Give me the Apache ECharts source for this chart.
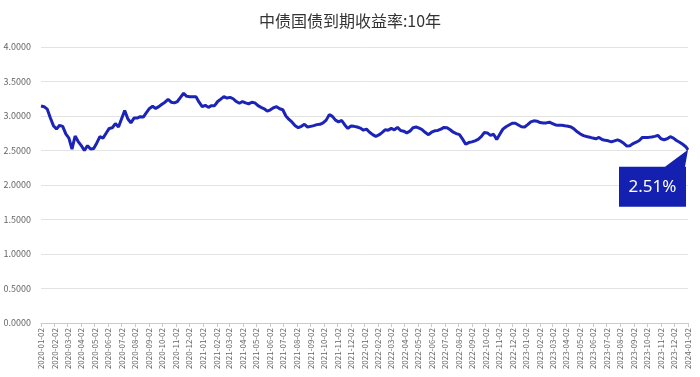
<!DOCTYPE html>
<html><head><meta charset="utf-8">
<script src="https://cdn.jsdelivr.net/npm/echarts@6/dist/echarts.min.js"></script>
<style>html,body{margin:0;padding:0;background:#fff}#c{width:700px;height:377px}</style>
</head><body><div id="c"></div>
<script>
const titleText = '中债国债到期收益率:10年';
const axisStart = '2020-01-02';
const axisEnd = '2024-01-02';
const sampleStart = '2020-01-02';
const sampleStepDays = 7;
const yields2020 = [3.145,3.135,3.10,2.975,2.86,2.81,2.865,2.85,2.74,2.68,2.52,2.71,2.63,2.57,2.50,2.57,2.52,2.53,2.61,2.70,2.68,2.75,2.82,2.83,2.89,2.84,2.96,3.08,2.96,2.90,2.97,2.97,2.99,2.985,3.05,3.11,3.14,3.11,3.135,3.17,3.20,3.24,3.20,3.19,3.21,3.27,3.33,3.285,3.28,3.28,3.28,3.20,3.135];
const yields2021 = [3.155,3.125,3.15,3.15,3.21,3.245,3.28,3.26,3.27,3.25,3.21,3.185,3.21,3.19,3.175,3.20,3.19,3.15,3.125,3.105,3.07,3.09,3.12,3.135,3.105,3.09,3.00,2.95,2.91,2.86,2.83,2.85,2.88,2.84,2.85,2.86,2.875,2.88,2.90,2.94,3.02,2.995,2.94,2.915,2.935,2.87,2.82,2.855,2.85,2.84,2.825,2.795];
const yields2022 = [2.81,2.765,2.73,2.705,2.725,2.76,2.80,2.795,2.82,2.80,2.835,2.79,2.78,2.755,2.78,2.83,2.84,2.825,2.80,2.76,2.73,2.765,2.785,2.79,2.81,2.835,2.83,2.80,2.765,2.745,2.73,2.665,2.59,2.615,2.625,2.64,2.66,2.70,2.76,2.755,2.72,2.735,2.66,2.735,2.81,2.845,2.87,2.895,2.895,2.87,2.845,2.84];
const yields2023 = [2.875,2.915,2.93,2.925,2.905,2.90,2.90,2.91,2.89,2.87,2.865,2.865,2.858,2.852,2.84,2.81,2.77,2.74,2.715,2.703,2.693,2.68,2.67,2.69,2.66,2.647,2.64,2.625,2.64,2.655,2.635,2.605,2.565,2.57,2.60,2.62,2.645,2.69,2.69,2.69,2.697,2.705,2.72,2.67,2.656,2.67,2.70,2.68,2.645,2.62,2.59,2.555];
const lastDate = '2024-01-02';
const lastValue = 2.51;
const calloutText = '2.51%';
const yMin = 0, yMax = 4, yInterval = 0.5;

const DAY = 86400000;
function parse(d){const p=d.split('-').map(Number);return Date.UTC(p[0],p[1]-1,p[2]);}
function fmt(t){const d=new Date(t);return d.getUTCFullYear()+'-'+String(d.getUTCMonth()+1).padStart(2,'0')+'-'+String(d.getUTCDate()).padStart(2,'0');}
const categories = [];
for (let t = parse(axisStart); t <= parse(axisEnd); t += DAY) categories.push(fmt(t));
const weekly = [].concat(yields2020, yields2021, yields2022, yields2023);
const seriesData = weekly.map((v, i) => [categories.indexOf(fmt(parse(sampleStart) + i * sampleStepDays * DAY)), v]);
const lastIdx = categories.indexOf(lastDate);
seriesData.push([lastIdx, lastValue]);

const showLabel = (idx, val) => val.slice(8) === '02';
const lineColor = '#1b24b6';

const chart = echarts.init(document.getElementById('c'), null, {renderer: 'canvas'});
chart.setOption({
  animation: false,
  backgroundColor: '#fff',
  title: {
    text: titleText, left: 'center', top: 8,
    textStyle: {fontSize: 16, fontWeight: 'normal', color: '#333', fontFamily: 'Noto Sans CJK SC'}
  },
  grid: {left: 41, right: 12, top: 47, bottom: 54, containLabel: false},
  xAxis: {
    type: 'category', data: categories, boundaryGap: false,
    axisLine: {lineStyle: {color: '#ccc'}},
    axisTick: {show: true, interval: showLabel, length: 4, lineStyle: {color: '#ccc'}},
    axisLabel: {interval: showLabel, rotate: 90, fontSize: 8, color: '#666', margin: 5, fontFamily: 'Noto Sans CJK SC'}
  },
  yAxis: {
    type: 'value', min: yMin, max: yMax, interval: yInterval,
    axisLine: {show: false}, axisTick: {show: false},
    axisLabel: {formatter: v => v.toFixed(4), fontSize: 9, color: '#666', margin: 10, fontFamily: 'Noto Sans CJK SC'},
    splitLine: {lineStyle: {color: '#e3e3e3'}}
  },
  series: [{
    type: 'line', data: seriesData, showSymbol: false, connectNulls: true,
    lineStyle: {color: lineColor, width: 3}, itemStyle: {color: lineColor},
    markPoint: {
      symbol: 'path://M69,0 L66,17 L67,17 L67,57 L0,57 L0,17 L46,17 Z',
      symbolSize: [69, 57], symbolOffset: [-34.5, 28.5],
      itemStyle: {color: '#1421b0'},
      label: {show: true, formatter: calloutText, color: '#fff', fontSize: 17, offset: [-1, 8.5], fontFamily: 'Noto Sans'},
      data: [{coord: [lastIdx, lastValue]}]
    }
  }]
});
</script></body></html>
